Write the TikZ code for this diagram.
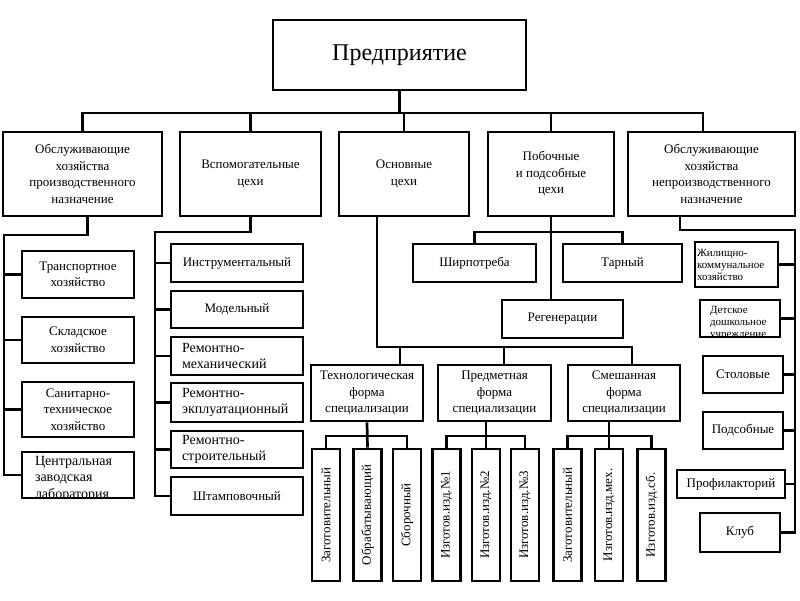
\documentclass[tikz,border=0pt]{standalone}
\usepackage{fontspec}
\setmainfont{Liberation Serif}
\usepackage{graphicx}

\begin{document}
\begin{tikzpicture}[x=1pt,y=-1pt,line width=2.7pt,
  blk/.style={draw, fill=white, inner sep=0pt, align=center, font=\fontsize{13}{16.5}\selectfont},
  sz/.style 2 args={minimum width=#1pt, minimum height=#2pt},
  big/.style={font=\fontsize{14}{16.5}\selectfont},
  sml/.style={font=\fontsize{11}{12}\selectfont},
  vbox/.style={blk, minimum width=28pt, minimum height=132pt}]
\useasboundingbox (0,0) rectangle (800,600);

\node[blk, sz={253}{70}, font=\fontsize{24}{28}\selectfont] (ent) at (399.5,55) {Предприятие};

\node[blk, sz={159}{84}] (obpr) at (82.5,174) {Обслуживающие\\хозяйства\\производственного\\назначение};
\node[blk, sz={141}{84}] (vsp) at (250.5,174) {Вспомогательные\\цехи};
\node[blk, sz={130}{84}] (osn) at (404,174) {Основные\\цехи};
\node[blk, sz={126}{84}] (pob) at (551,174) {Побочные\\и подсобные\\цехи};
\node[blk, sz={167}{84}] (obnp) at (711.5,174) {Обслуживающие\\хозяйства\\непроизводственного\\назначение};

\node[blk, sz={112}{47}] (tr) at (78,274.5) {Транспортное\\хозяйство};
\node[blk, sz={112}{46}] (skl) at (78,340) {Складское\\хозяйство};
\node[blk, sz={112}{55}] (san) at (78,409.5) {Санитарно-\\техническое\\хозяйство};
\node[blk, sz={112}{46}] (lab) at (78,475) {};
\begin{scope}
\clip (lab.north west) rectangle ([yshift=1.35pt]lab.south east);
\node[big, align=left, anchor=north west, inner sep=0pt] (labt) at ([xshift=13pt,yshift=-4pt]lab.north west) {Центральная\\заводская\\лаборатория};
\end{scope}

\node[blk, sz={132}{38}] (instr) at (237,263) {Инструментальный};
\node[blk, sz={132}{37}] (mdl) at (237,309.5) {Модельный};
\node[blk, big, sz={132}{38}, text width=110pt, align=left] (rmex) at (237,356) {Ремонтно-\\механический};
\node[blk, big, sz={132}{39}, text width=110pt, align=left] (rexp) at (237,402.5) {Ремонтно-\\экплуатационный};
\node[blk, big, sz={132}{37}, text width=110pt, align=left] (rstr) at (237,449.5) {Ремонтно-\\строительный};
\node[blk, sz={132}{38}] (sht) at (237,496) {Штамповочный};

\node[blk, sz={123}{38}] (shir) at (474.5,263) {Ширпотреба};
\node[blk, sz={119}{38}] (tar) at (622.5,263) {Тарный};
\node[blk, sz={121}{38}] (reg) at (562.5,319) {Регенерации};

\node[blk, sz={112}{56}] (tech) at (367,393) {Технологическая\\форма\\специализации};
\node[blk, sz={113}{56}] (pred) at (494.5,393) {Предметная\\форма\\специализации};
\node[blk, sz={112}{56}] (smf) at (624,393) {Смешанная\\форма\\специализации};

\node[vbox] (zag1) at (326,515) {\rotatebox{90}{Заготовительный}};
\node[vbox] (obr) at (367.5,515) {\rotatebox{90}{Обрабатывающий}};
\node[vbox] (sbor) at (407,515) {\rotatebox{90}{Сборочный}};
\node[vbox] (n1) at (446.5,515) {\rotatebox{90}{Изготов.изд.№1}};
\node[vbox] (n2) at (486,515) {\rotatebox{90}{Изготов.изд.№2}};
\node[vbox] (n3) at (525,515) {\rotatebox{90}{Изготов.изд.№3}};
\node[vbox] (zag2) at (567.5,515) {\rotatebox{90}{Заготовительный}};
\node[vbox] (mex) at (609,515) {\rotatebox{90}{Изготов.изд.мех.}};
\node[vbox] (sb) at (651.5,515) {\rotatebox{90}{Изготов.изд.сб.}};

\node[blk, sml, sz={83}{45}, text width=79pt, align=left] (zhil) at (736.5,264.5) {Жилищно-\\коммунальное\\хозяйство};
\node[blk, sz={80}{37}] (det) at (740,318.5) {};
\begin{scope}
\clip (det.north west) rectangle ([yshift=1.35pt]det.south east);
\node[sml, align=left, anchor=north west, inner sep=0pt] (dett) at ([xshift=10pt,yshift=-6.5pt]det.north west) {Детское\\дошкольное\\учреждение};
\end{scope}
\node[blk, sz={80}{37}] (stol) at (743,374.5) {Столовые};
\node[blk, sz={80}{37}] (pods) at (743,430.5) {Подсобные};
\node[blk, sz={108}{28}] (prof) at (731,484) {Профилакторий};
\node[blk, sz={80}{39}] (klub) at (740,532.5) {Клуб};

\coordinate (ba) at (399.5,113);
\draw (ent.south) -- (ba);
\draw (obpr.north) |- (ba) -| ([xshift=-8.5pt]obnp.north);
\draw (vsp.north) |- (ba);
\draw (osn.north) |- (ba);
\draw (pob.north) |- (ba);

\coordinate (ca) at (4,235);
\draw ([xshift=5pt]obpr.south) |- (ca) |- (lab.west);
\draw (ca) |- (tr.west);
\draw (ca) |- (skl.west);
\draw (ca) |- (san.west);

\coordinate (cb) at (155,232);
\draw (vsp.south) |- (cb) |- (sht.west);
\draw (cb) |- (instr.west);
\draw (cb) |- (mdl.west);
\draw (cb) |- (rmex.west);
\draw (cb) |- (rexp.west);
\draw (cb) |- (rstr.west);

\coordinate (cc) at (377,347);
\draw (osn.south -| cc) -- (cc) -| ([xshift=8pt]smf.north);
\draw (cc) -| ([xshift=33pt]tech.north);
\draw (cc) -| ([xshift=9.5pt]pred.north);

\coordinate (cd) at (551,232);
\draw (pob.south) -- (pob.south |- reg.north);
\draw (shir.north) |- (cd) -| (tar.north);

\coordinate (ce) at (795,230);
\draw ([xshift=-31.5pt]obnp.south) |- (ce) |- (klub.east);
\draw (ce) |- (zhil.east);
\draw (ce) |- (det.east);
\draw (ce) |- (stol.east);
\draw (ce) |- (pods.east);
\draw (ce) |- (prof.east);

\coordinate (ta) at (367,436);
\draw (tech.south) -- (obr.north);
\draw (zag1.north) |- (ta) -| (sbor.north);
\coordinate (tb) at (486,436);
\draw (pred.south -| n2.north) -- (n2.north);
\draw (n1.north) |- (tb) -| (n3.north);
\coordinate (tc) at (609,436);
\draw (smf.south -| mex.north) -- (mex.north);
\draw (zag2.north) |- (tc) -| (sb.north);
\end{tikzpicture}
\end{document}
